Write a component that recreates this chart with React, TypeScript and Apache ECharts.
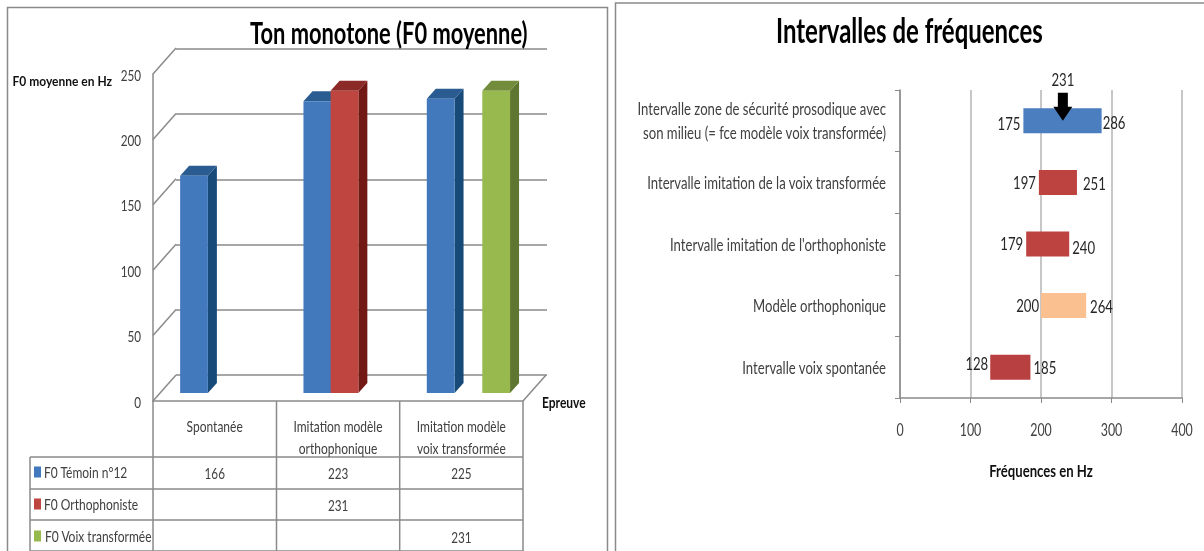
import React, { useEffect, useRef } from "react";
import * as echarts from "echarts";

const FONT = 'Lato, "Liberation Sans", sans-serif';

// Left chart data
const epreuves = ["Spontanée", "Imitation modèle\northophonique", "Imitation modèle\nvoix transformée"];
const temoin: (number | null)[] = [166, 223, 225];
const orthophoniste: (number | null)[] = [null, 231, null];
const voixTransformee: (number | null)[] = [null, null, 231];
const legendNames = ["F0 Témoin n°12", "F0 Orthophoniste", "F0 Voix transformée"];
const yTicks = [0, 50, 100, 150, 200, 250];

// Right chart data
const intervalles = [
  "Intervalle zone de sécurité prosodique avec\nson milieu (= fce modèle voix transformée)",
  "Intervalle imitation de la voix transformée",
  "Intervalle imitation de l'orthophoniste",
  "Modèle orthophonique",
  "Intervalle voix spontanée",
];
const lows = [175, 197, 179, 200, 128];
const highs = [286, 251, 240, 264, 185];
const milieu = 231;

// Styles
const seriesColors = [
  { front: "#4179bc", side: "#174a78", top: "#2a5c92" },
  { front: "#bf4541", side: "#721915", top: "#8c2a27" },
  { front: "#98b94e", side: "#5f7630", top: "#728c3b" },
];
const seriesOffsets = [-0.28, -0.06, 0.17];
const rangeColors = ["#4a7ebf", "#bd4341", "#bd4341", "#fac08f", "#b94040"];
const lowNudges = [[-1, 2], [-1, 0], [-1, -1], [0, -1], [0, -4]];
const highNudges = [[-2, 1], [3, 1], [0, 3], [1, 0], [0, 0]];
const LINE = "#8a8a8a";
const TEXT = "#404040";
const DX = 23;
const DY = 26;

function bar3d(colorIdx: number) {
  return (_: any, api: any) => {
    const c = api.value(0);
    const v = api.value(1);
    const band = api.size([1, 0])[0];
    const p = api.coord([c, v]);
    const b = api.coord([c, 0]);
    const w = band * 0.225;
    const x = p[0] + band * seriesOffsets[colorIdx];
    const base = b[1] - 8;
    const top = p[1] - 8;
    const col = seriesColors[colorIdx];
    const d = 9;
    const e = 10;
    return {
      type: "group",
      children: [
        { type: "polygon", shape: { points: [[x + w, base], [x + w + d, base - e], [x + w + d, top - e], [x + w, top]] }, style: { fill: col.side } },
        { type: "polygon", shape: { points: [[x, top], [x + d, top - e], [x + w + d, top - e], [x + w, top]] }, style: { fill: col.top } },
        { type: "rect", shape: { x, y: top, width: w, height: base - top }, style: { fill: col.front } },
      ],
    };
  };
}

function wallEdges(params: any, api: any) {
  const y = api.coord([0, api.value(0)])[1];
  const cs = params.coordSys;
  const style = { stroke: LINE, lineWidth: 1.5, fill: "none" };
  const children: any[] = [
    { type: "line", shape: { x1: cs.x, y1: y, x2: cs.x + DX, y2: y - DY }, style },
  ];
  if (api.value(0) === 0) {
    children.push({ type: "line", shape: { x1: cs.x + cs.width, y1: y, x2: cs.x + cs.width + DX, y2: y - DY }, style });
  }
  return { type: "group", children };
}

function tableGraphics() {
  const xs = [153, 276.5, 399.7, 523];
  const rows = [457, 489, 520, 551];
  const rowText = [472, 504, 536];
  const el: any[] = [];
  const ln = (x1: number, y1: number, x2: number, y2: number) =>
    el.push({ type: "line", shape: { x1, y1, x2, y2 }, style: { stroke: LINE, lineWidth: 1.5 } });
  xs.forEach((x) => ln(x, 401, x, 551));
  ln(30, 457, 30, 551);
  rows.forEach((y) => ln(30, y, 523, y));
  [temoin, orthophoniste, voixTransformee].forEach((vals, r) => {
    el.push({ type: "rect", shape: { x: 34, y: rowText[r] - 5.5, width: 7, height: 11 }, style: { fill: seriesColors[r].front } });
    el.push({
      type: "text", x: r === 2 ? 45 : 44, y: rowText[r] - 1,
      style: { text: legendNames[r], font: `16px ${FONT}`, fill: TEXT, verticalAlign: "middle", align: "left" },
    });
    vals.forEach((v, c) => {
      if (v != null) {
        el.push({
          type: "text", x: (xs[c] + xs[c + 1]) / 2, y: rowText[r],
          style: { text: String(v), font: `16px ${FONT}`, fill: TEXT, verticalAlign: "middle", align: "center" },
        });
      }
    });
  });
  el.push({
    type: "text", x: 12.5, y: 81,
    style: { text: "F0 moyenne en Hz", font: `bold 12.5px ${FONT}`, fill: "#111", verticalAlign: "middle", align: "left" },
  });
  return el;
}

// No condensed face is installed: the reference's squeezed lettering is matched with SVG textLength.
function condense(root: HTMLElement) {
  root.querySelectorAll("text").forEach((t) => {
    const s = t as SVGTextElement;
    const len = s.getComputedTextLength();
    const size = parseFloat(getComputedStyle(s).fontSize);
    const left = s.getBBox().x < 610;
    const digits = /^\d+$/.test(s.textContent || "");
    let f = left ? 0.75 : 0.82;
    if (digits) f = left ? 0.73 : 0.75;
    if (size >= 25) f = 0.705;
    if (size === 12.5) f = 0.96;
    s.setAttribute("textLength", String(len * f));
    s.setAttribute("lengthAdjust", "spacingAndGlyphs");
  });
}

export default function App() {
  const ref = useRef<HTMLDivElement>(null);
  useEffect(() => {
    document.body.style.margin = "0";
    const chart = echarts.init(ref.current!, null, { renderer: "svg" });
    const toData = (a: (number | null)[]) => a.map((v, i) => (v == null ? null : [i, v])).filter(Boolean);
    chart.setOption({
      animation: false,
      backgroundColor: "#fff",
      title: [
        { text: "Ton monotone (F0 moyenne)", left: 245, top: 11, textStyle: { fontFamily: FONT, fontSize: 31, fontWeight: "bold", color: "#000" } },
        { text: "Intervalles de fréquences", left: 771, top: 7, textStyle: { fontFamily: FONT, fontSize: 34, fontWeight: "bold", color: "#000" } },
      ],
      grid: [
        { left: 153, top: 74, width: 370, height: 327, outerBoundsMode: "none" },
        { left: 176, top: 49, width: 371, height: 326, outerBoundsMode: "none" },
        { left: 900, top: 90, width: 282, height: 308, outerBoundsMode: "none" },
      ],
      xAxis: [
        {
          type: "category", gridIndex: 0, data: epreuves,
          name: "Epreuve", nameLocation: "end", nameGap: 19,
          nameTextStyle: { fontFamily: FONT, fontSize: 16, fontWeight: "bold", color: "#111" },
          axisLine: { lineStyle: { color: LINE, width: 1.5 } }, axisTick: { show: false },
          axisLabel: { fontFamily: FONT, fontSize: 16, color: TEXT, margin: 13, lineHeight: 22, interval: 0 },
        },
        { type: "value", gridIndex: 1, show: false, min: 0, max: 1 },
        {
          type: "value", gridIndex: 2, min: 0, max: 400, interval: 100,
          name: "Fréquences en Hz", nameLocation: "middle", nameGap: 63,
          nameTextStyle: { fontFamily: FONT, fontSize: 17.5, fontWeight: "bold", color: "#111" },
          axisLine: { show: true, lineStyle: { color: LINE, width: 1.5 } },
          axisTick: { show: true, length: 5, lineStyle: { color: LINE } },
          splitLine: { show: true, lineStyle: { color: "#b4b4b4", width: 1.5 } },
          axisLabel: { fontFamily: FONT, fontSize: 17, color: TEXT, margin: 23 },
        },
      ],
      yAxis: [
        {
          type: "value", gridIndex: 0, min: 0, max: 250, interval: 50,
          axisLine: { show: true, lineStyle: { color: LINE, width: 1.5 } }, axisTick: { show: false },
          splitLine: { show: false },
          axisLabel: { fontFamily: FONT, fontSize: 16, color: TEXT, margin: 12 },
        },
        {
          type: "value", gridIndex: 1, min: 0, max: 250, interval: 50,
          axisLine: { show: false }, axisTick: { show: false }, axisLabel: { show: false },
          splitLine: { show: true, lineStyle: { color: LINE, width: 1.5 } },
        },
        {
          type: "category", gridIndex: 2, data: intervalles, inverse: true,
          axisLine: { show: true, lineStyle: { color: LINE, width: 1.5 } },
          axisTick: { show: true, length: 5, lineStyle: { color: LINE } },
          axisLabel: { fontFamily: FONT, fontSize: 17.5, color: TEXT, margin: 14, lineHeight: 24, interval: 0 },
        },
      ],
      series: [
        { type: "custom", name: "axes3d", xAxisIndex: 0, yAxisIndex: 0, data: yTicks.map((v) => [v]), encode: { y: 0 }, renderItem: wallEdges, silent: true, z: 1, clip: false },
        ...[temoin, orthophoniste, voixTransformee].map((vals, i) => ({
          type: "custom", name: legendNames[i], xAxisIndex: 0, yAxisIndex: 0,
          data: toData(vals), encode: { x: 0, y: 1 }, renderItem: bar3d(i), z: 3, clip: false,
        })),
        {
          type: "bar", name: "Début", xAxisIndex: 2, yAxisIndex: 2, stack: "range", barWidth: 25,
          itemStyle: { color: "transparent" },
          data: lows.map((v, i) => ({
            value: v,
            label: { offset: lowNudges[i] },
          })),
          label: { show: true, position: "insideRight", distance: 2, fontFamily: FONT, fontSize: 18, color: "#262626" },
        },
        {
          type: "bar", name: "Intervalle", xAxisIndex: 2, yAxisIndex: 2, stack: "range", barWidth: 25,
          data: highs.map((h, i) => ({
            value: h - lows[i],
            itemStyle: { color: rangeColors[i] },
            label: { offset: highNudges[i], formatter: String(h) },
          })),
          label: { show: true, position: "right", distance: 3, fontFamily: FONT, fontSize: 18, color: "#262626" },
        },
        {
          type: "scatter", name: "Milieu", xAxisIndex: 2, yAxisIndex: 2, z: 5,
          data: [[milieu, 0]],
          symbol: "path://M4.5 0H14.5V14H19L9.5 28L0 14H4.5Z",
          symbolSize: [19, 28], symbolOffset: [0, -14],
          itemStyle: { color: "#000", opacity: 1 },
          label: { show: true, position: "top", distance: 5, formatter: String(milieu), fontFamily: FONT, fontSize: 18, color: "#262626" },
        },
      ],
      graphic: [
        { type: "rect", shape: { x: 7.5, y: 7.5, width: 600, height: 570 }, style: { fill: "none", stroke: "#8a8a8a", lineWidth: 1.5 }, z: -1 },
        { type: "rect", shape: { x: 615.5, y: 3, width: 620, height: 570 }, style: { fill: "none", stroke: "#8a8a8a", lineWidth: 1.5 }, z: -1 },
        ...tableGraphics(),
      ],
    });
    condense(ref.current!);
    return () => chart.dispose();
  }, []);
  return <div ref={ref} style={{ position: "fixed", left: 0, top: 0, width: 1204, height: 551, filter: "blur(0.4px)" }} />;
}
